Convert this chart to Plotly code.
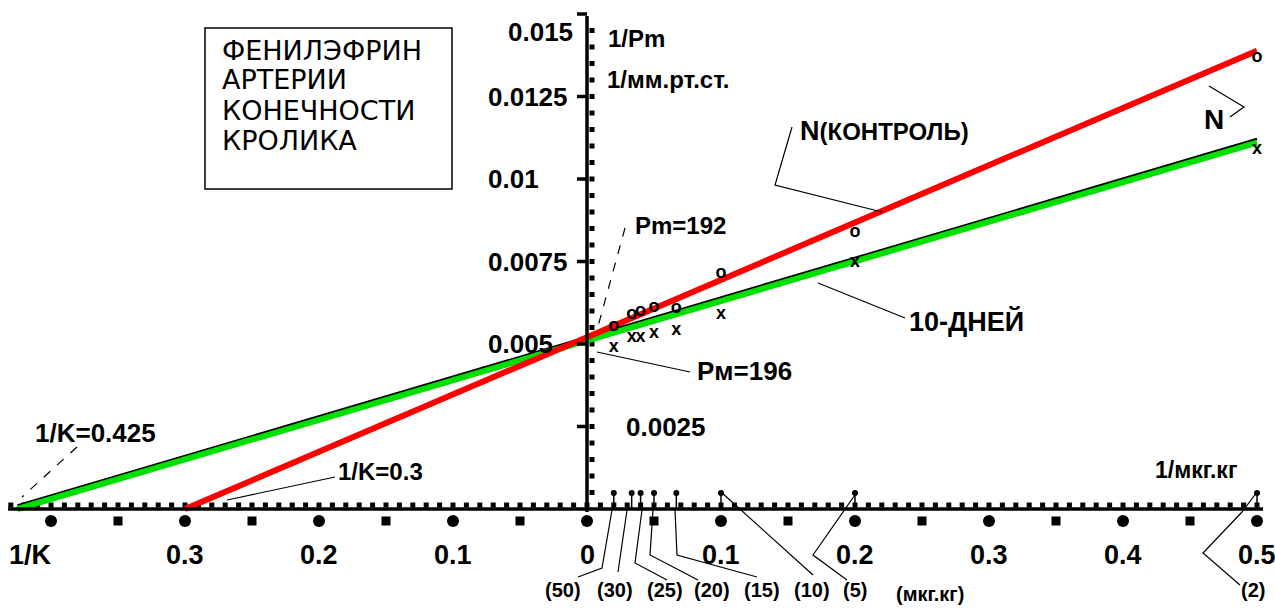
import numpy as np
import plotly.graph_objects as go

# ---------------- data ----------------
doses = [50, 30, 25, 20, 15, 10, 5, 2]               # мкг/кг
dose_labels = ["(50)", "(30)", "(25)", "(20)", "(15)", "(10)", "(5)", "(2)"]
control_inv_p = [0.00552, 0.00588, 0.00597, 0.00612, 0.00609, 0.00715, 0.00839, 0.01367]
days10_inv_p = [0.00488, 0.00521, 0.00521, 0.00533, 0.00542, 0.00588, 0.00748, 0.01088]
control_invK, control_Pm = 0.3, 192
days10_invK, days10_Pm = 0.425, 196
x_tick_vals = [-0.3, -0.2, -0.1, 0, 0.1, 0.2, 0.3, 0.4, 0.5]
x_tick_text = ["0.3", "0.2", "0.1", "0", "0.1", "0.2", "0.3", "0.4", "0.5"]
y_tick_vals = [0.0025, 0.005, 0.0075, 0.01, 0.0125, 0.015]
y_tick_text = ["0.0025", "0.005", "0.0075", "0.01", "0.0125", "0.015"]

# ---------------- geometry ----------------
W, H = 1275, 608
X0_PX, PX_PER_X = 587, 1340.0
Y0_PX, PX_PER_Y = 509, 33000.0
XMIN = -X0_PX / PX_PER_X
XMAX = XMIN + W / PX_PER_X
YMAX = Y0_PX / PX_PER_Y
YMIN = YMAX - H / PX_PER_Y


def dx(p):  # pixel offset -> data x
    return p / PX_PER_X


def dy(p):  # pixel offset -> data y
    return p / PX_PER_Y


def pxx(p):
    return XMIN + p / PX_PER_X


def pxy(p):
    return YMAX - p / PX_PER_Y


FONT = "Liberation Sans, Arial, sans-serif"
BOXFONT = "DejaVu Sans, Liberation Sans, sans-serif"
fig = go.Figure()

# ---------------- axes decorations ----------------
shapes = []
shapes.append(dict(type="line", xref="x", yref="y", x0=pxx(8), x1=pxx(1263), y0=0, y1=0,
                   line=dict(color="black", width=3.5)))
shapes.append(dict(type="line", xref="x", yref="y", x0=0, x1=0, y0=-dy(3), y1=pxy(16),
                   line=dict(color="black", width=3.5)))
for v in y_tick_vals:
    shapes.append(dict(type="line", xref="x", yref="y", x0=-dx(10), x1=0, y0=v, y1=v,
                       line=dict(color="black", width=3.5)))

xm = np.round(np.arange(-43, 51) * 0.01, 3)
fig.add_trace(go.Scatter(x=xm, y=[dy(4)] * len(xm), mode="markers",
                         marker=dict(symbol="square", size=5, color="black"),
                         hoverinfo="skip", showlegend=False))
ym = np.arange(1, 30) * 0.0005
fig.add_trace(go.Scatter(x=[dx(5)] * len(ym), y=ym, mode="markers",
                         marker=dict(symbol="square", size=5, color="black"),
                         hoverinfo="skip", showlegend=False))
xd = np.round(np.arange(-4, 6) * 0.1, 2)
fig.add_trace(go.Scatter(x=xd, y=[-dy(12)] * len(xd), mode="markers",
                         marker=dict(symbol="circle", size=12, color="black"),
                         hoverinfo="skip", showlegend=False))
xs = np.round(np.arange(-4, 5) * 0.1 + 0.05, 3)
xs = xs[xs < 0.5]
fig.add_trace(go.Scatter(x=xs, y=[-dy(12)] * len(xs), mode="markers",
                         marker=dict(symbol="square", size=9, color="black"),
                         hoverinfo="skip", showlegend=False))

# ---------------- regression lines ----------------
def line_pts(invK, Pm):
    xx = np.array([-invK, 0.5])
    return xx, (1.0 / Pm) * (1 + xx / invK)


xr, yr = line_pts(control_invK, control_Pm)
xg, yg = line_pts(days10_invK, days10_Pm)
fig.add_trace(go.Scatter(x=xg, y=yg + dy(3.5), mode="lines",
                         line=dict(color="black", width=2.5), hoverinfo="skip", showlegend=False))
fig.add_trace(go.Scatter(x=xg, y=yg, mode="lines",
                         line=dict(color="#00e000", width=6), hoverinfo="skip", showlegend=False))
fig.add_trace(go.Scatter(x=xr, y=yr, mode="lines",
                         line=dict(color="#ff0000", width=6), hoverinfo="skip", showlegend=False))

# ---------------- data points ----------------
inv_dose = [1.0 / d for d in doses]
fig.add_trace(go.Scatter(x=inv_dose, y=control_inv_p, mode="text", text=["<b>o</b>"] * len(doses),
                         textfont=dict(family=FONT, size=18, color="black"),
                         textposition="middle center", name="N (контроль)", showlegend=False))
fig.add_trace(go.Scatter(x=inv_dose, y=days10_inv_p, mode="text", text=["<b>x</b>"] * len(doses),
                         textfont=dict(family=FONT, size=18, color="black"),
                         textposition="middle center", name="10 дней", showlegend=False))

fig.add_trace(go.Scatter(x=inv_dose, y=[dy(16)] * len(doses), mode="markers",
                         marker=dict(symbol="circle", size=6, color="black"),
                         hoverinfo="skip", showlegend=False))
for xv in inv_dose:
    shapes.append(dict(type="line", xref="x", yref="y", x0=xv, x1=xv, y0=0, y1=dy(16),
                       line=dict(color="black", width=1.5)))

# ---------------- leader lines (pixel paths) ----------------
def path(points, dash="solid", width=1.2):
    d = "M " + " L ".join(f"{pxx(a)},{pxy(b)}" for a, b in points)
    return dict(type="path", xref="x", yref="y", path=d,
                line=dict(color="black", width=width, dash=dash))


leaders = [
    ([(625, 228), (597, 330)], "dash"),                 # Pm=192
    ([(597, 352), (690, 372)], "solid"),                # Pм=196
    ([(792, 127), (775, 185), (882, 212)], "solid"),    # N(КОНТРОЛЬ)
    ([(818, 283), (905, 318)], "solid"),                # 10-ДНЕЙ
    ([(1209, 86), (1244, 107), (1230, 117)], "solid"),  # N
    ([(77, 447), (22, 497)], "dash"),                   # 1/K=0.425
    ([(335, 477), (227, 500)], "solid"),                # 1/K=0.3
    ([(612, 510), (602, 568), (578, 577)], "solid"),    # (50)
    ([(627, 510), (618, 572)], "solid"),                # (30)
    ([(642, 510), (635, 563), (667, 580)], "solid"),    # (25)
    ([(653, 510), (650, 555), (698, 580)], "solid"),    # (20)
    ([(675, 510), (677, 555), (757, 577)], "solid"),    # (15)
    ([(721, 492), (813, 575)], "solid"),                # (10)
    ([(857, 492), (813, 555), (847, 580)], "solid"),    # (5)
    ([(1257, 492), (1242, 512), (1203, 553), (1240, 585)], "solid"),  # (2)
]
for pts, ds in leaders:
    shapes.append(path(pts, ds))

shapes.append(dict(type="rect", xref="paper", yref="paper",
                   x0=205 / W, x1=452 / W, y0=1 - 189 / H, y1=1 - 28 / H,
                   line=dict(color="black", width=1.5)))

# ---------------- annotations ----------------
ann = []


def text(xp, yp, t, size, bold=True, xanchor="left", family=FONT):
    ann.append(dict(xref="paper", yref="paper", x=xp / W, y=1 - yp / H,
                    text=(f"<b>{t}</b>" if bold else t), showarrow=False,
                    xanchor=xanchor, yanchor="middle",
                    font=dict(family=family, size=size, color="black")))


for v, t in zip(x_tick_vals, x_tick_text):
    ann.append(dict(xref="x", yref="y", x=v, y=-dy(46), text=f"<b>{t}</b>", showarrow=False,
                    xanchor="center", yanchor="middle",
                    font=dict(family=FONT, size=27, color="black")))
text(30, 555, "1/K", 27, xanchor="center")

for v, t in zip(y_tick_vals, y_tick_text):
    if t == "0.015":
        text(506, 32, t, 26)
    elif t == "0.0025":
        text(624, 427, t, 26)
    else:
        ann.append(dict(xref="paper", yref="y", x=486 / W, y=v, text=f"<b>{t}</b>",
                        showarrow=False, xanchor="left", yanchor="middle",
                        font=dict(family=FONT, size=26, color="black")))

dose_label_px = [563, 615, 665, 712, 762, 812, 855, 1253]
for xp, t in zip(dose_label_px, dose_labels):
    text(xp, 590, t, 20, xanchor="center")
text(930, 594, "(мкг.кг)", 20, xanchor="center")

for i, line in enumerate(["ФЕНИЛЭФРИН", "АРТЕРИИ", "КОНЕЧНОСТИ", "КРОЛИКА"]):
    text(220, 50 + i * 30, line, 27, bold=False, family=BOXFONT)

text(606, 38, "1/Pm", 24)
text(605, 79, "1/мм.рт.ст.", 24)
text(633, 225, "Pm=192", 24)
text(695, 371, "Pм=196", 26)
text(798, 131, "N<span style='font-size:24px'>(КОНТРОЛЬ)</span>", 27)
text(907, 321, "10-ДНЕЙ", 27)
text(1202, 119, "N", 28)
text(33, 433, "1/K=0.425", 26)
text(336, 471, "1/K=0.3", 24)
text(1153, 470, "1/мкг.кг", 23)

fig.update_layout(
    width=W, height=H, autosize=False,
    margin=dict(l=0, r=0, t=0, b=0),
    paper_bgcolor="white", plot_bgcolor="white",
    xaxis=dict(range=[XMIN, XMAX], visible=False, fixedrange=True),
    yaxis=dict(range=[YMIN, YMAX], visible=False, fixedrange=True),
    shapes=shapes, annotations=ann, showlegend=False,
)

fig.write_html("out.html", config={"displayModeBar": False},
               post_script="document.body.style.margin='0';document.body.style.overflow='hidden';")
